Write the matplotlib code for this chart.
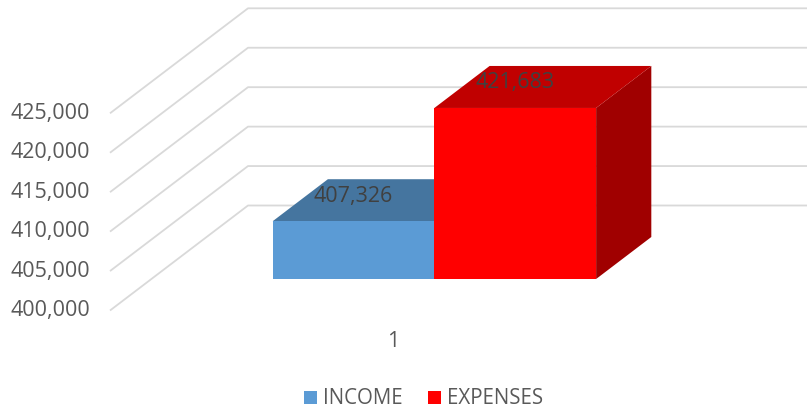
import matplotlib
matplotlib.use("Agg")
import matplotlib.pyplot as plt
from matplotlib.patches import Polygon, Patch

# ---- data ----
categories = ["1"]
series_names = ["INCOME", "EXPENSES"]
series_values = [407326, 421683]
y_ticks = [400000, 405000, 410000, 415000, 420000, 425000]
axis_min = 400000

front_colors = ["#5b9bd5", "#ff0000"]
top_colors = ["#45759f", "#c00000"]
side_colors = ["#3a6a93", "#a00000"]
text_color = "#595959"
label_color = "#404040"
grid_color = "#d9d9d9"
FONT = "Open Sans"
FS = 15.5

# ---- layout (pixel based oblique projection) ----
W_PX, H_PX = 807, 408
K = 25000 / 197.2          # value units per vertical pixel
ORIGIN_PY = 310.5          # pixel row of axis_min on the front plane
X0, WF = 110, 566          # floor front-left x and width (px)
DX, DY = 138, 105          # depth offset (px) for full depth
DV = DY * K
Z0, Z1 = 0.3, 0.7          # bar depth range
GAP = 1.5                  # gap width (fraction of bar width)

fig = plt.figure(figsize=(W_PX / 100, H_PX / 100), dpi=100)
ax = fig.add_axes([0, 0, 1, 1])
ax.set_xlim(0, W_PX)
ax.set_ylim(axis_min - (H_PX - ORIGIN_PY) * K, axis_min + ORIGIN_PY * K)
ax.axis("off")


def proj(xf, v, z):
    return X0 + WF * xf + DX * z, v + DV * z


# gridlines (left wall + back wall)
for t in y_ticks:
    p0 = proj(0, t, 0)
    p1 = proj(0, t, 1)
    p2 = proj(1.1, t, 1)
    ax.plot([p0[0], p1[0], p2[0]], [p0[1], p1[1], p2[1]],
            color=grid_color, lw=1.3, solid_capstyle="butt", zorder=1)
    ax.annotate(f"{t:,}", xy=p0, xytext=(-20, 0), textcoords="offset pixels",
                ha="right", va="center", fontsize=FS, color=text_color,
                family=FONT)

# bars
n = len(series_values)
bw = 1.0 / (n + GAP)
for ci, cat in enumerate(categories):
    start = ci + 0.5 - n * bw / 2
    for i, (val, fc, tc, sc) in enumerate(zip(series_values, front_colors,
                                              top_colors, side_colors)):
        xl = start + i * bw
        xr = xl + bw
        front = [proj(xl, axis_min, Z0), proj(xr, axis_min, Z0),
                 proj(xr, val, Z0), proj(xl, val, Z0)]
        top = [proj(xl, val, Z0), proj(xr, val, Z0),
               proj(xr, val, Z1), proj(xl, val, Z1)]
        side = [proj(xr, axis_min, Z0), proj(xr, axis_min, Z1),
                proj(xr, val, Z1), proj(xr, val, Z0)]
        z = 2 + i
        ax.add_patch(Polygon(side, closed=True, fc=sc, ec="none", zorder=z))
        ax.add_patch(Polygon(top, closed=True, fc=tc, ec="none", zorder=z))
        ax.add_patch(Polygon(front, closed=True, fc=fc, ec="none", zorder=z))
        cx, cy = proj((xl + xr) / 2, val, Z0)
        ax.annotate(f"{val:,}", xy=(cx, cy), xytext=(0, 25),
                    textcoords="offset pixels", ha="center", va="center",
                    fontsize=FS, color=label_color, family=FONT, zorder=10)
    lx, ly = proj(ci + 0.5, axis_min, 0)
    ax.annotate(cat, xy=(lx, ly), xytext=(0, -31.5), textcoords="offset pixels",
                ha="center", va="center", fontsize=FS, color=text_color,
                family=FONT)

handles = [Patch(fc=c, ec="none") for c in front_colors]
leg = fig.legend(handles, series_names, loc="center",
                 bbox_to_anchor=(423.5 / W_PX, 1 - 399 / H_PX), ncol=2,
                 frameon=False, handlelength=0.62, handleheight=0.62,
                 handletextpad=0.3, columnspacing=1.25,
                 prop={"family": FONT, "size": 14.8})
for t in leg.get_texts():
    t.set_color(text_color)

fig.savefig("out.png", dpi=100)
